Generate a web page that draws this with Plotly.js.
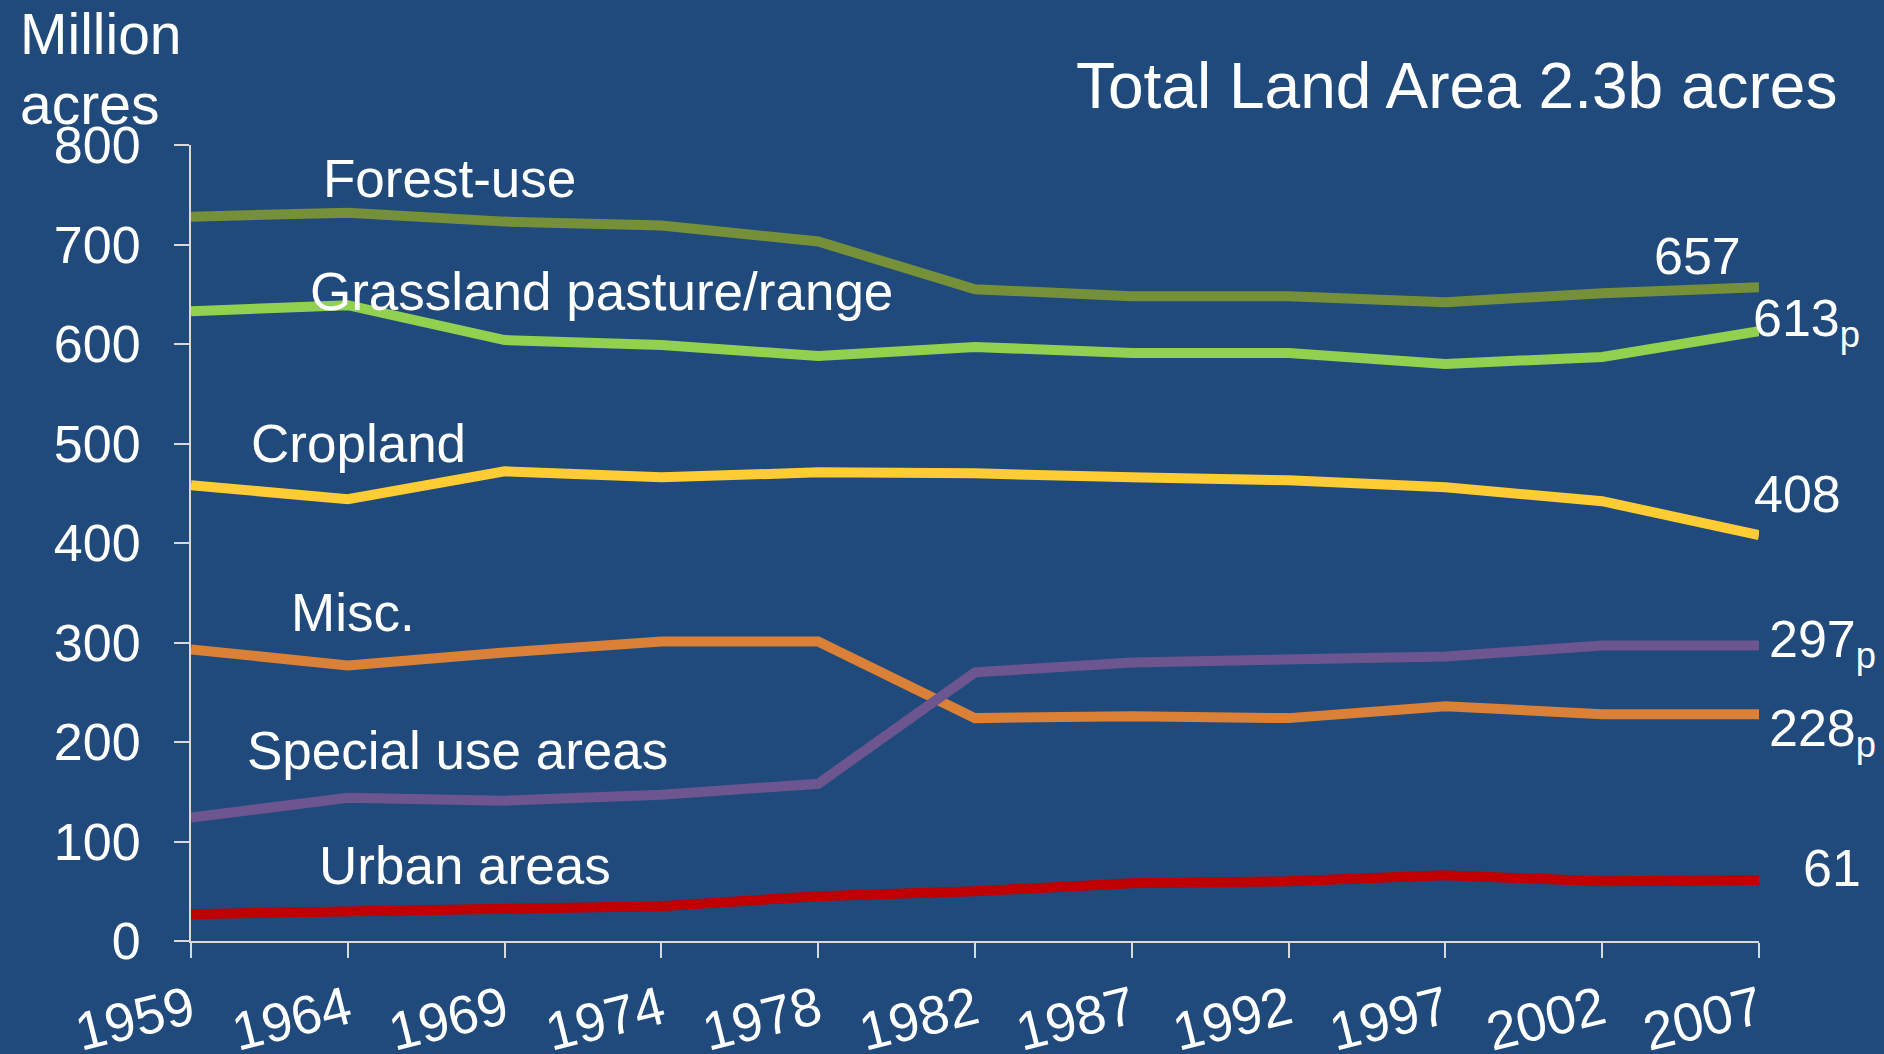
<!DOCTYPE html>
<html>
<head>
<meta charset="utf-8">
<script src="https://cdn.plot.ly/plotly-3.0.1.min.js"></script>
<style>
html,body{margin:0;padding:0;background:#204A7B;}
#chart{width:1884px;height:1054px;}
</style>
</head>
<body>
<div id="chart"></div>
<script>
// ---- data (million acres) ----
const years = ["1959","1964","1969","1974","1978","1982","1987","1992","1997","2002","2007"];
const forestUse = [728, 732, 723, 719, 703, 655, 648, 648, 642, 651, 657];
const grassland = [633, 639, 604, 599, 588, 597, 591, 591, 580, 587, 613];
const cropland  = [458, 444, 472, 466, 471, 470, 466, 463, 456, 442, 408];
const misc      = [293, 277, 290, 301, 301, 224, 226, 224, 236, 228, 228];
const specialUse= [124, 144, 141, 147, 158, 270, 280, 282, 286, 297, 297];
const urban     = [27, 29, 31, 35, 45, 50, 58, 60, 66, 60, 61];
const seriesNames = ["Forest-use","Grassland pasture/range","Cropland","Misc.","Special use areas","Urban areas"];
const endLabels = ["657","613<sub>p</sub>","408","297<sub>p</sub>","228<sub>p</sub>","61"];
const yTicks = [0,100,200,300,400,500,600,700,800];

// ---- layout helpers ----
const W = 1884, H = 1054;
const L = 190.6, R = 1758.8, T = 144.6, B = 940.6;
const px = x => (x - L) / (R - L);
const py = y => (B - y) / (B - T);
const FONT = '"Liberation Sans", Arial, Helvetica, sans-serif';
const WHITE = '#FFFFFF';
const AX = '#D9D9D9';

const colors = ['#76903A', '#92D050', '#FFCC33', '#DA8037', '#6D5690', '#C00000'];
const allSeries = [forestUse, grassland, cropland, misc, specialUse, urban];

const traces = allSeries.map((vals, i) => ({
  type: 'scatter', mode: 'lines', x: years, y: vals, name: seriesNames[i],
  line: {color: colors[i], width: 10}, hoverinfo: 'x+y+name'
}));

function ann(text, x, y, size, xanchor, yanchor) {
  return {text: text, xref: 'paper', yref: 'paper', x: px(x), y: py(y),
    xanchor: xanchor || 'left', yanchor: yanchor || 'middle', showarrow: false,
    font: {family: FONT, size: size, color: WHITE}, align: 'left'};
}

// series label positions (pixels)
const seriesLabelPos = [[321, 178], [308, 291], [249, 443], [289, 612], [245, 750], [317, 865]];
const endLabelPos = [[1743, 256, 'right'], [1751, 316, 'left'], [1843, 494, 'right'],
                     [1767, 637, 'left'], [1767, 726, 'left'], [1863, 868, 'right']];

const annotations = [];
annotations.push(ann('Total Land Area 2.3b acres', 1839, 86, 64, 'right'));
annotations.push(ann('Million', 18, 34, 57));
annotations.push(ann('acres', 18, 104, 57));
seriesNames.forEach((n, i) => annotations.push(ann(n, seriesLabelPos[i][0], seriesLabelPos[i][1], 53)));
endLabels.forEach((t, i) => {
  const a = ann(t, endLabelPos[i][0], endLabelPos[i][1], 52, endLabelPos[i][2]);
  if (t.indexOf('<sub>') >= 0) { a.yanchor = 'top'; a.y = py(endLabelPos[i][1] - 29); }
  annotations.push(a);
});

const layout = {
  width: W, height: H,
  paper_bgcolor: '#204A7B', plot_bgcolor: '#204A7B',
  margin: {l: L, r: W - R, t: T, b: H - B, pad: 0},
  showlegend: false,
  font: {family: FONT, color: WHITE},
  xaxis: {
    type: 'category', range: [0, years.length - 1], fixedrange: true,
    showline: true, linecolor: AX, linewidth: 2, mirror: false,
    ticks: 'outside', ticklen: 15, tickwidth: 2, tickcolor: AX,
    showgrid: false, zeroline: false, tickangle: -14,
    tickfont: {family: FONT, size: 54, color: WHITE}, ticklabelstandoff: 0
  },
  yaxis: {
    range: [0, 800], tickvals: yTicks, ticktext: yTicks.map(String), fixedrange: true,
    showline: true, linecolor: AX, linewidth: 2,
    ticks: 'outside', ticklen: 15, tickwidth: 2, tickcolor: AX,
    showgrid: false, zeroline: false,
    tickfont: {family: FONT, size: 52, color: WHITE}, ticklabelstandoff: 23
  },
  annotations: annotations
};

Plotly.newPlot('chart', traces, layout, {displayModeBar: false, staticPlot: true});
</script>
</body>
</html>
